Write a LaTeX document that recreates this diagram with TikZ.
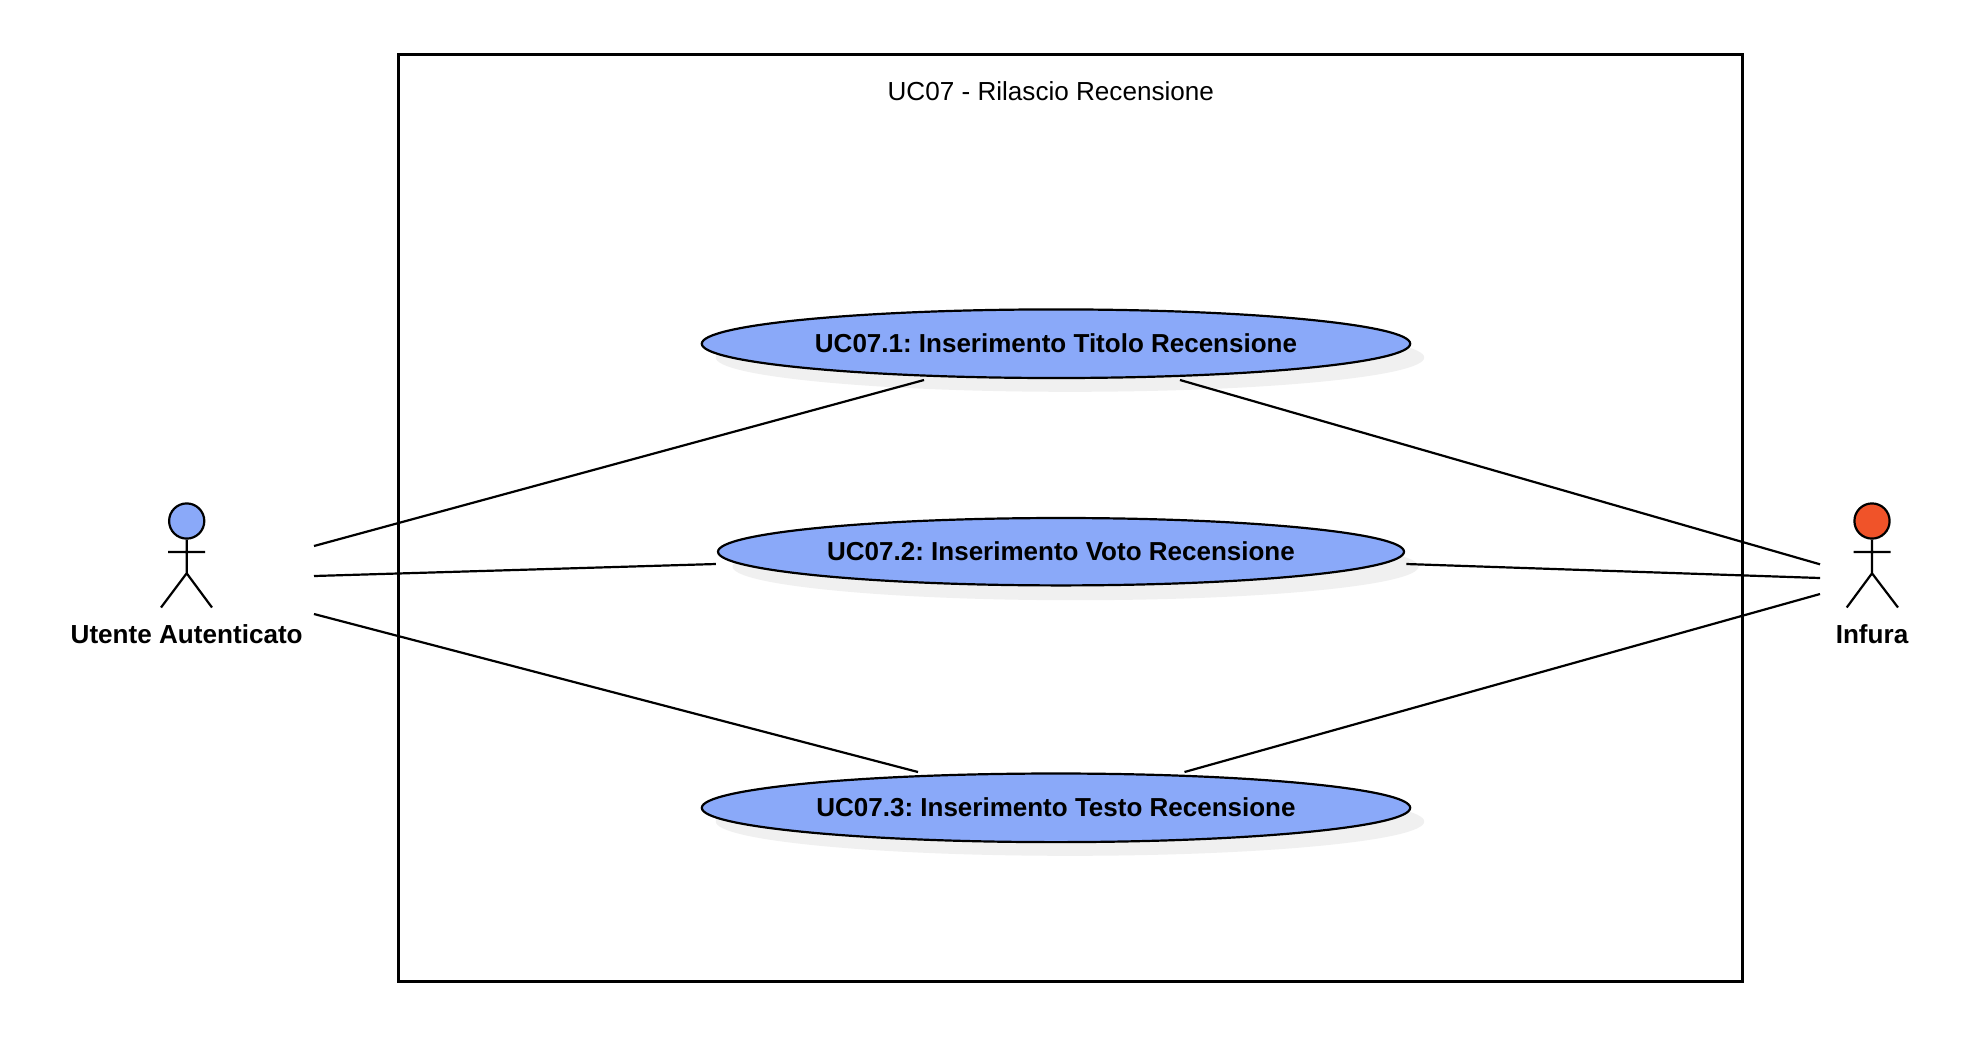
\documentclass[tikz,border=0pt]{standalone}
\usepackage{fontspec}
\setmainfont{Liberation Sans}
\usetikzlibrary{shapes.geometric}
\definecolor{ucblue}{HTML}{8AA9F9}
\definecolor{actred}{HTML}{F05329}
\definecolor{shade}{HTML}{F0F0F0}
\tikzset{
  x=0.5pt,y=-0.5pt,
  usecase/.style={ellipse,draw=black,fill=ucblue,line width=1.1pt,inner sep=0pt,font=\bfseries\fontsize{13}{16}\selectfont},
  ushadow/.style={ellipse,fill=shade,draw=none,inner sep=0pt},
  head/.style={circle,draw=black,line width=1.1pt,minimum size=17.6pt,inner sep=0pt},
  body/.style={line width=1.1pt,draw=black},
  assoc/.style={line width=1.1pt,draw=black},
  actorname/.style={font=\bfseries\fontsize{13.05}{16}\selectfont,inner sep=0pt},
}
\begin{document}
\frenchspacing
\begin{tikzpicture}
\useasboundingbox (0,0) rectangle (1974,1056);
\fill[white] (0,0) rectangle (1974,1056);
% system boundary
\node[draw=black,line width=1.25pt,minimum width=671.9pt,minimum height=463.4pt,inner sep=0pt,anchor=north west] (sys) at (397.2,53.4) {};
\node[inner sep=0pt,font=\fontsize{13.05}{16}\selectfont] (title) at (1050.8,91) {UC07 - Rilascio Recensione};
% shadows
\node[ushadow,minimum width=354.2pt,minimum height=34.3pt] (s1) at (1070,357.5) {};
\node[ushadow,minimum width=343pt,minimum height=33.7pt] (s2) at (1075.5,566.5) {};
\node[ushadow,minimum width=354.2pt,minimum height=34.3pt] (s3) at (1070,821.5) {};
% use cases
\node[usecase,minimum width=354.2pt,minimum height=34.3pt] (u1) at (1056,343.7) {\raisebox{0.3pt}{UC07.1: Inserimento Titolo Recensione}};
\node[usecase,minimum width=343pt,minimum height=33.7pt] (u2) at (1061,551.7) {\raisebox{0.3pt}{UC07.2: Inserimento Voto Recensione}};
\node[usecase,minimum width=354.2pt,minimum height=34.3pt] (u3) at (1056,807.8) {\raisebox{0.3pt}{UC07.3: Inserimento Testo Recensione}};
% left actor
\node[head,fill=ucblue] (la) at (186.7,521) {};
\coordinate (lneck) at (186.7,573.3);
\coordinate (larmL) at (168,552);
\coordinate (larmR) at (205,552);
\coordinate (llegL) at (161,607.5);
\coordinate (llegR) at (212,607.5);
\draw[body] (la) -- (lneck) (larmL) -- (larmR) (llegL) -- (lneck) -- (llegR);
\node[actorname] (lname) at (186.7,634) {Utente Autenticato};
% right actor
\node[head,fill=actred] (ra) at (1872,521) {};
\coordinate (rneck) at (1872,573.3);
\coordinate (rarmL) at (1853.5,552);
\coordinate (rarmR) at (1890.5,552);
\coordinate (rlegL) at (1846.7,607.5);
\coordinate (rlegR) at (1898,607.5);
\draw[body] (ra) -- (rneck) (rarmL) -- (rarmR) (rlegL) -- (rneck) -- (rlegR);
\node[actorname] (rname) at (1872,634) {Infura};
% connector ends
\coordinate (l1) at (314,546);
\coordinate (l2) at (314,576);
\coordinate (l3) at (314,614);
\coordinate (r1) at (1820,564.3);
\coordinate (r2) at (1820,578);
\coordinate (r3) at (1820,594);
\coordinate (a1) at (924,380);
\coordinate (a2) at (715.8,564);
\coordinate (a3) at (918,772);
\coordinate (b1) at (1180,380);
\coordinate (b2) at (1406.4,564);
\coordinate (b3) at (1184.5,772);
\draw[assoc] (l1) -- (a1);
\draw[assoc] (l2) -- (a2);
\draw[assoc] (l3) -- (a3);
\draw[assoc] (r1) -- (b1);
\draw[assoc] (r2) -- (b2);
\draw[assoc] (r3) -- (b3);
\end{tikzpicture}
\end{document}
